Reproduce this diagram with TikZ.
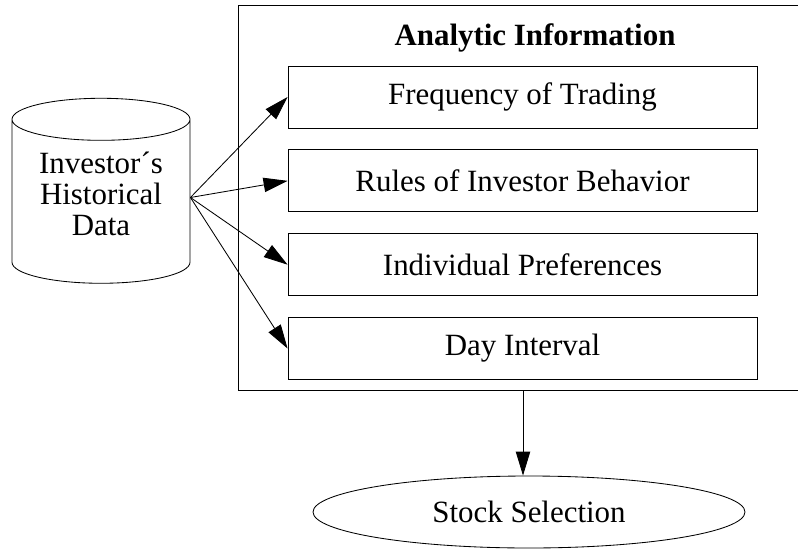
\documentclass[tikz,border=0pt]{standalone}
\usepackage{fontspec}
\setmainfont{Liberation Serif}
\usetikzlibrary{arrows.meta, positioning, shapes.geometric, fit}

\begin{document}
\begin{tikzpicture}[
      node distance=0.525cm,
      every node/.style={font=\fontsize{22}{22}\selectfont},
      info/.style={draw, line width=0.6pt, minimum width=11.725cm, minimum height=1.55cm, inner sep=0pt},
      store/.style={draw, line width=0.6pt, cylinder, shape border rotate=90, aspect=0.34, minimum width=4.45cm, minimum height=4.625cm, align=center, inner sep=0pt, text depth=0.4cm},
      arr/.style={-{Triangle[length=0.6cm, width=0.36cm]}, line width=0.6pt}
    ]
    \useasboundingbox (0,0) rectangle (19.95,-13.775);
    \node[store] (data) at (2.525,-5.0375) {Investor\textasciiacute s\\Historical\\Data};
    \node[font=\fontsize{22}{22}\selectfont\bfseries] (title) at (13.375,-0.95) {Analytic Information};
    \node[info] (freq) at (13.0625,-2.425) {Frequency of Trading};
    \node[info, below=of freq]  (rules) {Rules of Investor Behavior};
    \node[info, below=of rules] (pref)  {Individual Preferences};
    \node[info, below=of pref]  (day)   {Day Interval};
    \coordinate (nw) at (5.95,-0.125);
    \coordinate (se) at (20.2,-9.75);
    \node[draw, line width=0.6pt, inner sep=0pt, fit=(nw)(se)] (analytic) {};
    \node[draw, ellipse, line width=0.6pt, minimum width=10.8cm, minimum height=1.8cm, inner sep=0pt] (select) at (13.225,-12.8) {Stock Selection};
    \draw[arr] ([yshift=0.1cm]data.east) -- (freq.west);
    \draw[arr] ([yshift=0.1cm]data.east) -- (rules.west);
    \draw[arr] ([yshift=0.1cm]data.east) -- (pref.west);
    \draw[arr] ([yshift=0.1cm]data.east) -- (day.west);
    \draw[arr] (analytic.south) -- (analytic.south |- select.north);
  \end{tikzpicture}
\end{document}
